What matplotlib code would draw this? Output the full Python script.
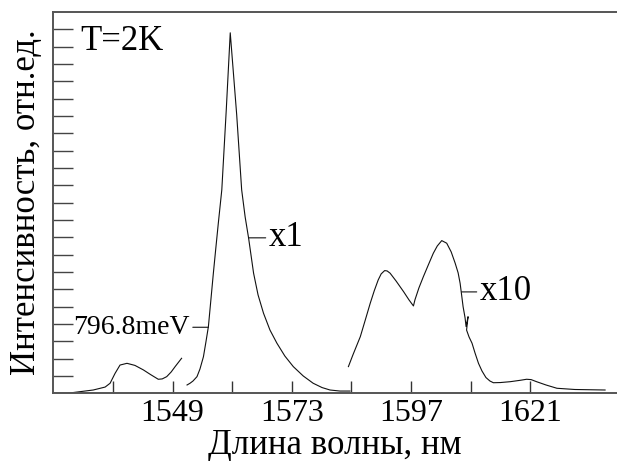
import matplotlib
matplotlib.use("Agg")
import matplotlib.pyplot as plt

plt.rcParams['font.family'] = ['Liberation Serif', 'DejaVu Serif']

# Segment 1: weak low-wavelength shoulder
wl_a = [1524.9, 1528.3, 1533.0, 1535.4, 1536.4, 1537.4, 1538.4, 1539.8, 1541.4,
        1543.1, 1544.5, 1546.1, 1546.9, 1547.8, 1548.7, 1549.5, 1550.8]
int_a = [0.0, 0.02, 0.19, 0.36, 0.58, 1.15, 1.63, 1.73, 1.61,
         1.35, 1.09, 0.81, 0.83, 0.96, 1.23, 1.54, 2.02]

# Segment 2: main peak (x1)
wl_b = [1551.9, 1552.5, 1553.1, 1553.9, 1554.5, 1555.2, 1555.7, 1556.2, 1556.7,
        1557.2, 1557.7, 1558.2, 1558.9, 1559.8, 1560.6, 1561.9, 1562.9, 1563.6,
        1564.3, 1565.3, 1566.2, 1567.3, 1568.6, 1570.0, 1571.6, 1573.3, 1575.3,
        1577.3, 1579.1, 1580.7, 1582.7, 1584.7]
int_b = [0.48, 0.58, 0.71, 0.96, 1.40, 2.11, 2.96, 3.85, 5.39,
         6.93, 8.39, 9.82, 11.74, 16.36, 20.80, 16.07, 11.74, 10.18,
         8.95, 6.93, 5.68, 4.62, 3.65, 2.89, 2.15, 1.54, 1.00,
         0.58, 0.33, 0.19, 0.13, 0.13]

# Segment 3: long-wavelength band (x10)
wl_c = [1584.4, 1585.3, 1586.8, 1587.8, 1588.8, 1589.6, 1590.4, 1591.0, 1591.7,
        1592.2, 1592.8, 1594.0, 1595.5, 1596.6, 1597.5, 1597.8, 1598.6, 1599.5,
        1600.5, 1601.5, 1602.3, 1603.2, 1604.2, 1605.1, 1605.9, 1606.5, 1606.9,
        1607.2, 1607.5, 1607.9, 1608.1, 1608.5, 1608.2, 1608.7, 1609.3, 1609.9,
        1610.6, 1611.3, 1612.1, 1612.9, 1613.6, 1615.0, 1617.0, 1619.0, 1620.3,
        1621.2, 1622.3, 1624.2, 1626.4, 1630.0, 1636.1]
int_c = [1.54, 2.21, 3.27, 4.23, 5.20, 5.91, 6.54, 6.89, 7.08,
         7.06, 6.93, 6.48, 5.87, 5.39, 5.04, 5.39, 6.08, 6.73,
         7.41, 8.08, 8.50, 8.81, 8.66, 8.16, 7.51, 6.95, 6.35,
         5.68, 5.00, 4.35, 3.85, 4.42, 3.65, 3.25, 2.89, 2.33,
         1.73, 1.29, 0.91, 0.71, 0.61, 0.62, 0.67, 0.75, 0.81,
         0.79, 0.67, 0.48, 0.29, 0.22, 0.19]

x_major = [1549, 1573, 1597, 1621]
x_minor = [1537, 1561, 1585, 1609]
y_ticks = list(range(1, 22))

fig = plt.figure(figsize=(6.17, 4.61), dpi=100)
ax = fig.add_axes([53/617, 1 - 393.3/461, 1 - 53/617, (393.3 - 12)/461])

lc = '#111111'
for xs, ys in [(wl_a, int_a), (wl_b, int_b), (wl_c, int_c)]:
    ax.plot(xs, ys, color=lc, lw=0.8, solid_joinstyle='round')

ax.set_xlim(1524.9, 1638.5)
ax.set_ylim(0, 22)

ax.spines['right'].set_visible(False)
for s in ['left', 'top', 'bottom']:
    ax.spines[s].set_color('#555555')
    ax.spines[s].set_linewidth(1.4)

ax.set_xticks(x_major)
ax.set_xticklabels([str(v) for v in x_major])
ax.set_xticks(x_minor, minor=True)
ax.set_yticks(y_ticks)
ax.set_yticklabels([])
ax.tick_params(axis='x', which='both', direction='in', length=8.6, width=1.0,
               color='#333333', labelsize=23, pad=4)
ax.tick_params(axis='y', which='both', direction='in', length=14.4, width=1.0,
               color='#444444')

ax.set_xlabel('Длина волны, нм', fontsize=25, labelpad=0.5)
ax.set_ylabel('Интенсивность, отн.ед.', fontsize=25, labelpad=4)

ax.text(1530.4, 20.3, 'T=2K', fontsize=25, va='center', ha='left')

ax.annotate('x1', xy=(1564.3, 8.97), xytext=(1568.3, 8.97), fontsize=25,
            va='center', ha='left',
            arrowprops=dict(arrowstyle='-', color=lc, lw=0.8, shrinkA=0, shrinkB=0))
ax.annotate('x10', xy=(1607.2, 5.85), xytext=(1610.8, 5.85), fontsize=25,
            va='center', ha='left',
            arrowprops=dict(arrowstyle='-', color=lc, lw=0.8, shrinkA=0, shrinkB=0))
ax.annotate('796.8meV', xy=(1556.2, 3.81), xytext=(1552.5, 3.81), fontsize=20,
            va='center', ha='right',
            arrowprops=dict(arrowstyle='-', color=lc, lw=0.8, shrinkA=0, shrinkB=0))

fig.savefig('out.png', dpi=100)
